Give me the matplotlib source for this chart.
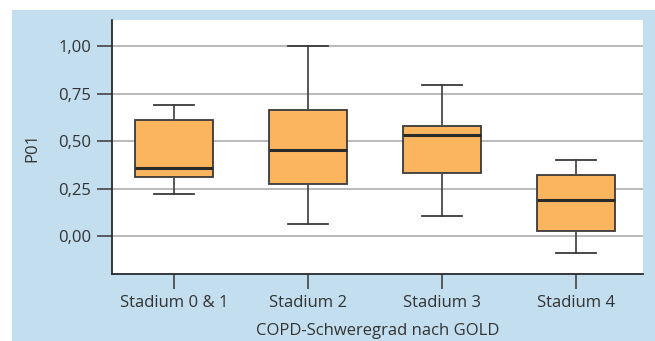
import matplotlib
matplotlib.use('Agg')
import matplotlib.pyplot as plt
from matplotlib.patches import Rectangle

# box plot values
labels = ['Stadium 0 & 1', 'Stadium 2', 'Stadium 3', 'Stadium 4']
whislo = [0.221, 0.063, 0.105, -0.089]
q1 = [0.311, 0.274, 0.332, 0.026]
med = [0.358, 0.453, 0.532, 0.189]
q3 = [0.611, 0.663, 0.579, 0.321]
whishi = [0.689, 1.0, 0.795, 0.40]

yticks = [0.0, 0.25, 0.5, 0.75, 1.0]
ytick_labels = ['0,00', '0,25', '0,50', '0,75', '1,00']

plt.rcParams['font.family'] = ['Open Sans', 'DejaVu Sans']
text_col = '#333333'
blue = '#c3dfef'

fig = plt.figure(figsize=(6.55, 3.41), dpi=100)
fig.patches.append(Rectangle((12 / 655, 0), 1, 1 - 10 / 341, transform=fig.transFigure,
                             facecolor=blue, edgecolor='none', zorder=-10))

ax = fig.add_axes([112 / 655, 1 - 274 / 341, (643 - 112) / 655, (274 - 20) / 341])
ax.set_facecolor('white')

stats = []
for i in range(len(labels)):
    stats.append({'label': labels[i], 'whislo': whislo[i], 'q1': q1[i], 'med': med[i],
                  'q3': q3[i], 'whishi': whishi[i], 'fliers': []})

ax.bxp(stats, positions=[1, 2, 3, 4], widths=0.58, patch_artist=True, showfliers=False,
       boxprops=dict(facecolor='#fbb55f', edgecolor='#3a3a3a', linewidth=1.3),
       medianprops=dict(color='#2a2a2a', linewidth=2.2),
       whiskerprops=dict(color='#4a4a4a', linewidth=1.3),
       capprops=dict(color='#3a3a3a', linewidth=1.3),
       capwidths=0.3, zorder=3)

ax.set_xlim(0.537, 4.5)
ax.set_ylim(-0.2, 1.137)
ax.set_yticks(yticks)
ax.set_yticklabels(ytick_labels)
ax.set_xticks([1, 2, 3, 4])
ax.set_xticklabels(labels)

ax.yaxis.grid(True, color='#b4b4b4', linewidth=1.3, zorder=0)
ax.set_axisbelow(True)

for s in ['top', 'right']:
    ax.spines[s].set_visible(False)
for s in ['left', 'bottom']:
    ax.spines[s].set_color('#2a2a2a')
    ax.spines[s].set_linewidth(1.3)

ax.tick_params(axis='both', length=11, width=1.2, color='#444444',
               labelsize=12, labelcolor=text_col, pad=4)

ax.set_ylabel('P01', fontsize=12, color=text_col, labelpad=13)
ax.set_xlabel('COPD-Schweregrad nach GOLD', fontsize=12, color=text_col, labelpad=9)

fig.savefig('out.png', dpi=100)
